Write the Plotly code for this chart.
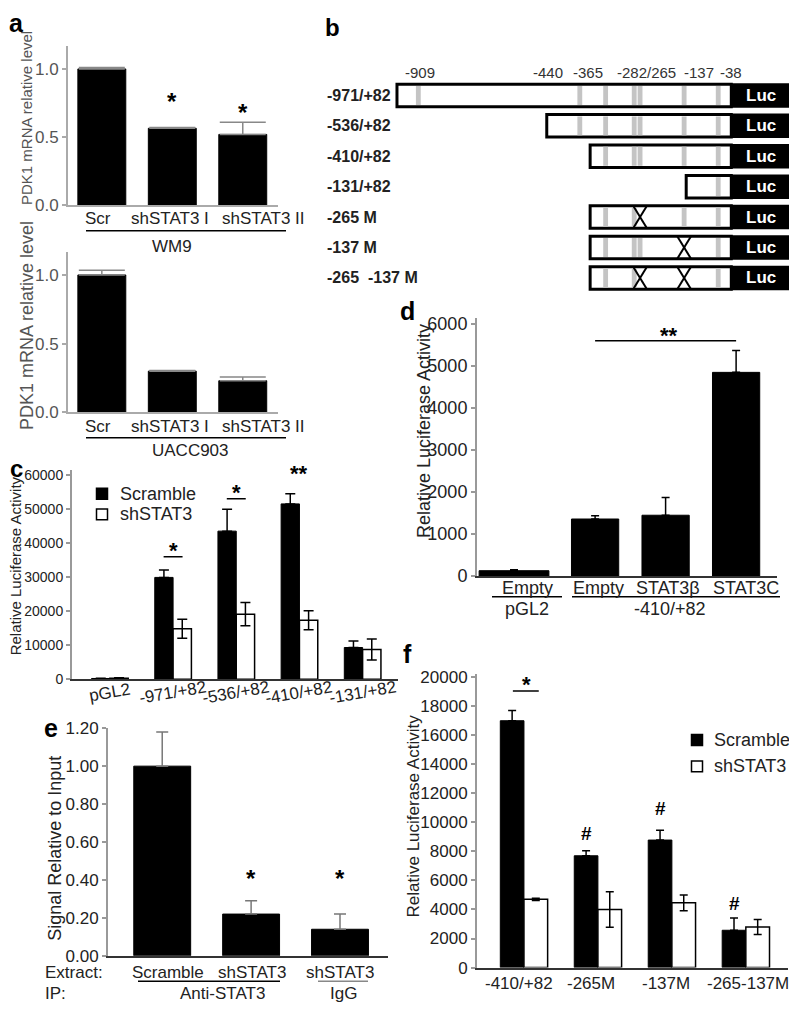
import plotly.graph_objects as go

# page body has an 8px margin; size the figure so the page fits the window exactly
PAD = 8
W, H = 797 - 2 * PAD, 1015 - 2 * PAD
def px(x): return min(max((x - PAD) / W, 0), 1)
def py(y): return min(max(1 - (y - PAD) / H, 0), 1)

FONT = "Liberation Sans, Arial, Helvetica, sans-serif"
DARK = "#222222"
TXT = "#222222"

# ---------------- data ----------------
a_cats = ["Scr", "shSTAT3 I", "shSTAT3 II"]
a_wm9 = [1.00, 0.565, 0.52]
a_wm9_err = [0.01, 0.005, 0.09]
a_wm9_star = [None, 0.76, 0.68]
a_uacc = [1.00, 0.30, 0.23]
a_uacc_err = [0.035, 0.005, 0.027]

b_constructs = ["-971/+82", "-536/+82", "-410/+82", "-131/+82", "-265 M", "-137 M", "-265  -137 M"]
b_starts = [-971, -536, -410, -131, -410, -410, -410]
b_mutated = [[], [], [], [], [-265], [-137], [-265, -137]]
b_sites = [-909, -440, -365, -282, -265, -137, -38]
b_site_labels = ["-909", "-440", "-365", "-282/265", "-137", "-38"]
b_label_sites = [-909, -440, -365, -274, -137, -38]
b_luc_end = 165

c_cats = ["pGL2", "-971/+82", "-536/+82", "-410/+82", "-131/+82"]
c_series = ["Scramble", "shSTAT3"]
c_scr = [200, 29900, 43500, 51500, 9300]
c_scr_err = [100, 2200, 6400, 3000, 1900]
c_sh = [300, 14800, 19100, 17300, 8700]
c_sh_err = [100, 2800, 3400, 2800, 3100]
c_sig = [(1, "*", 36000, True), (2, "*", 53000, True), (3, "**", 58500, False)]

d_cats = ["Empty", "Empty", "STAT3β", "STAT3C"]
d_groups = ["pGL2", "-410/+82"]
d_vals = [130, 1360, 1450, 4850]
d_err = [20, 80, 420, 520]

e_extract = ["Scramble", "shSTAT3", "shSTAT3"]
e_ip = ["Anti-STAT3", "IgG"]
e_vals = [1.00, 0.22, 0.14]
e_err = [0.18, 0.07, 0.08]
e_star = [None, 0.405, 0.405]

f_cats = ["-410/+82", "-265M", "-137M", "-265-137M"]
f_series = ["Scramble", "shSTAT3"]
f_scr = [17000, 7700, 8780, 2570]
f_scr_err = [700, 340, 680, 850]
f_sh = [4700, 4000, 4460, 2790]
f_sh_err = [80, 1220, 540, 520]
f_marks = [(1, "#", 9260), (2, "#", 10950), (3, "#", 4400)]

fig = go.Figure()
annotations = []
shapes = []

def ann(text, x, y, xref="paper", yref="paper", size=17, color=TXT, bold=False,
        xanchor="center", yanchor="middle", angle=0, **kw):
    if bold:
        text = "<b>" + text + "</b>"
    annotations.append(dict(text=text, x=x, y=y, xref=xref, yref=yref, showarrow=False,
                            font=dict(family=FONT, size=size, color=color),
                            xanchor=xanchor, yanchor=yanchor, textangle=angle, **kw))

def hline(x0, x1, y, color="black", width=1.5):
    shapes.append(dict(type="line", x0=px(x0), x1=px(x1), y0=py(y), y1=py(y), xref="paper", yref="paper",
                       line=dict(color=color, width=width)))

def legend_box(names, fills, xc, ys, xt, size=18):
    for name, fill, yc in zip(names, fills, ys):
        shapes.append(dict(type="rect", xref="paper", yref="paper",
                           x0=px(xc - 5.5), x1=px(xc + 5.5), y0=py(yc + 5.5), y1=py(yc - 5.5),
                           fillcolor=fill, line=dict(color="black", width=1.5)))
        ann(name, px(xt), py(yc), size=size, xanchor="left")

def xax(l, r, rng, anchor, linecolor="#333333"):
    return dict(domain=[px(l), px(r)], range=rng, anchor=anchor, showgrid=False, zeroline=False,
                showline=True, linecolor=linecolor, linewidth=2, showticklabels=False, ticks="",
                fixedrange=True)

def yax(top, bot, rng, anchor, dtick, fmt, size, color=TXT, linecolor="#999999"):
    return dict(domain=[py(bot), py(top)], range=rng, anchor=anchor, showgrid=False, zeroline=False,
                showline=True, linecolor=linecolor, linewidth=2, ticks="outside", ticklen=4,
                tickcolor=linecolor, tickwidth=1.5, dtick=dtick, tick0=0, tickformat=fmt,
                tickfont=dict(family=FONT, size=size, color=color), fixedrange=True)

def black_bars(x, y, err, xa, ya, width, offset=None, ecolor="black", ewidth=5, name=None):
    fig.add_trace(go.Bar(x=x, y=y, xaxis=xa, yaxis=ya, width=width, offset=offset, name=name,
                         marker=dict(color="black", line=dict(color="black", width=1)),
                         error_y=dict(type="data", array=err, arrayminus=[0] * len(err), symmetric=False,
                                      color=ecolor, thickness=1.5, width=ewidth),
                         showlegend=False))

def white_bars(x, y, err, xa, ya, width, offset, ewidth, name):
    fig.add_trace(go.Bar(x=x, y=y, xaxis=xa, yaxis=ya, width=width, offset=offset, name=name,
                         marker=dict(color="white", line=dict(color="black", width=1.5)),
                         error_y=dict(type="data", array=err, color="black", thickness=1.5, width=ewidth),
                         showlegend=False))

# ---------------- panel a ----------------
ia = list(range(len(a_cats)))
black_bars(ia, a_wm9, a_wm9_err, "x", "y", 0.68, ecolor="#888888", ewidth=23)
black_bars(ia, a_uacc, a_uacc_err, "x2", "y2", 0.68, ecolor="#888888", ewidth=23)
for i, s in enumerate(a_wm9_star):
    if s is not None:
        ann("*", i, s, xref="x", yref="y", size=24, bold=True, color="black")
label_shift = [-4, -2, 21]
for ytxt, yline, ygrp, grp, gx in [(213, 226, 242, "WM9", 172), (425, 437, 450, "UACC903", 190)]:
    for i, c in enumerate(a_cats):
        ann(c, i, py(ytxt), xref="x", size=17, xshift=label_shift[i])
    hline(86, 286, yline)
    ann(grp, px(gx), py(ygrp), size=17)
ann("PDK1 mRNA relative level", px(26), py(111), size=15, color="#555555", angle=-90)
ann("PDK1 mRNA relative level", px(27), py(323), size=18, color="#555555", angle=-90)

# ---------------- panel b ----------------
HB = 0.37
for r, (name, start, muts) in enumerate(zip(b_constructs, b_starts, b_mutated)):
    shapes.append(dict(type="rect", xref="x7", yref="y7", x0=start, x1=0, y0=r - HB, y1=r + HB,
                       line=dict(color="black", width=3), fillcolor="white"))
    shapes.append(dict(type="rect", xref="x7", yref="y7", x0=0, x1=b_luc_end, y0=r - HB, y1=r + HB,
                       line=dict(color="black", width=2), fillcolor="black"))
    for s in b_sites:
        if s > start and s not in muts:
            shapes.append(dict(type="rect", xref="x7", yref="y7", x0=s - 7, x1=s + 7,
                               y0=r - 0.31, y1=r + 0.31, line=dict(width=0), fillcolor="#c4c4c4"))
    for m in muts:
        for sgn in (1, -1):
            shapes.append(dict(type="line", xref="x7", yref="y7", x0=m - 20, x1=m + 20,
                               y0=r - sgn * HB, y1=r + sgn * HB, line=dict(color="black", width=2)))
    ann("Luc", b_luc_end / 2 + 5, r, xref="x7", yref="y7", size=17, bold=True, color="white")
    ann(name, px(325), r, yref="y7", size=16, bold=True, xanchor="left")
site_shift = [2, -32, -18, 10, 15, 13]
for lab, s, sh in zip(b_site_labels, b_label_sites, site_shift):
    ann(lab, s, -0.74, xref="x7", yref="y7", size=15, color="#333333", xshift=sh)

# ---------------- panel c ----------------
ic = list(range(len(c_cats)))
black_bars(ic, c_scr, c_scr_err, "x3", "y3", 0.29, offset=-0.29, ewidth=5, name=c_series[0])
white_bars(ic, c_sh, c_sh_err, "x3", "y3", 0.29, 0, 5, c_series[1])
legend_box(c_series, ["black", "white"], 102, [494, 515], 118)
for gi, txt, lvl, line in c_sig:
    if line:
        shapes.append(dict(type="line", xref="x3", yref="y3", x0=gi - 0.15, x1=gi + 0.15, y0=lvl, y1=lvl,
                           line=dict(color="black", width=1.5)))
    ann(txt, gi, lvl, xref="x3", yref="y3", size=22, bold=True, color="black", yanchor="bottom", yshift=-8)
for i, c in enumerate(c_cats):
    ann(c, i, py(697), xref="x3", size=17, angle=-10)
ann("Relative Luciferase Activity", px(15), py(568), size=15, angle=-90)

# ---------------- panel d ----------------
gap = 0.15
d_x = [i + (gap if i > 0 else 0) for i in range(len(d_cats))]
d_w = [0.99 if i == 0 else 0.67 for i in range(len(d_cats))]
black_bars(d_x, d_vals, d_err, "x4", "y4", d_w, ewidth=4)
d_shift = [13, 3, 2, 10]
for xx, c, sh in zip(d_x, d_cats, d_shift):
    ann(c, xx, py(590), xref="x4", size=18, xshift=sh)
hline(492, 562, 599)
hline(572, 780, 599)
ann(d_groups[0], px(527), py(611), size=18)
ann(d_groups[1], px(670), py(611), size=18)
shapes.append(dict(type="line", xref="x4", yref="y4", x0=d_x[1], x1=d_x[3], y0=5600, y1=5600,
                   line=dict(color="black", width=1.5)))
ann("**", (d_x[1] + d_x[3]) / 2 + 0.05, 5600, xref="x4", yref="y4", size=22, bold=True,
    color="black", yanchor="bottom", yshift=-9)
ann("Relative Luciferase Activity", px(424), py(430), size=18, angle=-90)

# ---------------- panel e ----------------
ie = list(range(len(e_vals)))
black_bars(ie, e_vals, e_err, "x5", "y5", 0.64, ecolor="#777777", ewidth=6)
for i, s in enumerate(e_star):
    if s is not None:
        ann("*", i, s, xref="x5", yref="y5", size=24, bold=True, color="black")
e_shift = [6, 1, 0]
for i, c in enumerate(e_extract):
    ann(c, i, py(982), xref="x5", size=17, xshift=e_shift[i])
ann("Extract:", px(43), py(982), size=17, xanchor="left")
ann("IP:", px(43), py(1003), size=17, xanchor="left")
hline(138, 280, 991)
hline(318, 368, 991, color="#888888")
ann(e_ip[0], px(222), py(1003), size=17)
ann(e_ip[1], px(343), py(1003), size=17)
ann("Signal Relative to Input", px(55), py(856), size=18, angle=-90)

# ---------------- panel f ----------------
jf = list(range(len(f_cats)))
black_bars(jf, f_scr, f_scr_err, "x6", "y6", 0.32, offset=-0.32, ewidth=4, name=f_series[0])
white_bars(jf, f_sh, f_sh_err, "x6", "y6", 0.32, 0, 4, f_series[1])
legend_box(f_series, ["black", "white"], 697, [745, 772], 712)
shapes.append(dict(type="line", xref="x6", yref="y6", x0=-0.15, x1=0.2, y0=19050, y1=19050,
                   line=dict(color="black", width=1.5)))
ann("*", 0.03, 19050, xref="x6", yref="y6", size=22, bold=True, color="black", yanchor="bottom", yshift=-8)
for gi, txt, lvl in f_marks:
    ann(txt, gi - 0.16, lvl, xref="x6", yref="y6", size=19, bold=True, color="black")
f_shift = [-5, -7, -6, 2]
for i, c in enumerate(f_cats):
    ann(c, i, py(993), xref="x6", size=17, xshift=f_shift[i])
ann("Relative Luciferase Activity", px(413), py(823), size=17, angle=-90)

# ---------------- panel letters ----------------
for letter, x, y, sz in [("a", 16, 14, 25), ("b", 332, 19, 24), ("c", 16, 468, 24),
                         ("d", 407, 308, 25), ("e", 51, 733, 25), ("f", 407, 657, 25)]:
    ann(letter, px(x), py(y), size=sz, bold=True, color="black")

B_LEFT, B_RIGHT = 380, 789
fig.update_layout(
    width=W, height=H, margin=dict(l=0, r=0, t=0, b=0),
    paper_bgcolor="white", plot_bgcolor="white", barmode="overlay", showlegend=False,
    font=dict(family=FONT, color=DARK),
    xaxis=xax(68, 278, [-0.48, 2.5], "y", "#aaaaaa"),
    yaxis=yax(38, 200, [0, 1.165], "x", 0.5, ".1f", 17, "#555555", "#aaaaaa"),
    xaxis2=xax(68, 278, [-0.48, 2.5], "y2", "#aaaaaa"),
    yaxis2=yax(248, 411, [0, 1.164], "x2", 0.5, ".1f", 17, "#555555", "#aaaaaa"),
    xaxis3=xax(72, 398, [-0.6, 4.56], "y3", "#333333"),
    yaxis3=yax(470, 683, [0, 61400], "x3", 10000, "d", 14, TXT, "#999999"),
    xaxis4=xax(477, 777, [-0.525, 3.73], "y4", "#333333"),
    yaxis4=yax(315, 578, [0, 6140], "x4", 1000, "d", 18, TXT, "#999999"),
    xaxis5=xax(108, 388, [-0.61, 2.54], "y5", "#333333"),
    yaxis5=yax(733, 965, [0, 1.2], "x5", 0.2, ".2f", 17, TXT, "#999999"),
    xaxis6=xax(477, 788, [-0.635, 3.57], "y6", "#333333"),
    yaxis6=yax(678, 977, [0, 20200], "x6", 2000, "d", 17, TXT, "#999999"),
    xaxis7=dict(domain=[px(B_LEFT), px(B_RIGHT)],
                range=[(B_LEFT - 731.3) / 0.3443, (B_RIGHT - 731.3) / 0.3443],
                anchor="y7", visible=False, fixedrange=True),
    yaxis7=dict(domain=[py(300), py(60)], range=[6.84, -0.903], anchor="x7", visible=False, fixedrange=True),
    annotations=annotations, shapes=shapes,
)

fig.write_html("out.html")
